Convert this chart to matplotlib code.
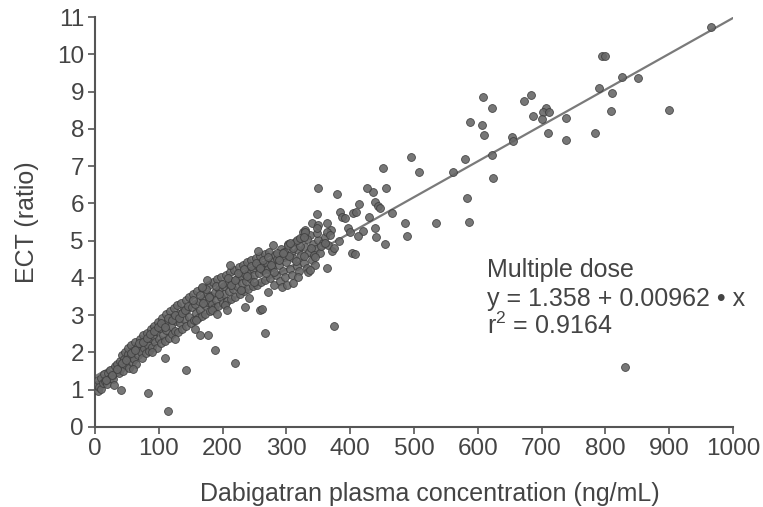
import numpy as np
import matplotlib
matplotlib.use("Agg")
import matplotlib.pyplot as plt

plt.rcParams["font.family"] = ["Liberation Sans", "DejaVu Sans"]
plt.rcParams["mathtext.default"] = "regular"

# dense band, 0-150 ng/mL (x = plasma concentration, y = ECT ratio)
conc_low = [1, 4, 5, 7, 9, 10, 13, 14, 16, 19, 20, 23, 24, 27, 29, 31, 33, 34, 37, 39,
            40, 43, 44, 46, 47, 49, 51, 52, 53, 55, 57, 58, 59, 61, 62, 64, 65, 67, 68, 70,
            72, 73, 74, 76, 77, 79, 80, 82, 83, 85, 86, 88, 89, 91, 92, 94, 96, 97, 99, 100,
            102, 103, 105, 106, 108, 109, 111, 112, 114, 116, 117, 119, 120, 122, 124, 125, 127, 128, 130, 132,
            133, 135, 137, 138, 140, 142, 143, 145, 147, 148,
            18, 26, 35, 42, 48, 56, 63, 69, 75, 81, 87, 93, 98, 104, 110, 115, 121, 126, 131, 136,
            141, 146, 30, 60, 90, 125]
ect_low = [1.12, 0.96, 1.25, 1.08, 1.32, 1.02, 1.18, 1.41, 1.22, 1.15, 1.46, 1.30, 1.52, 1.36, 1.28, 1.63, 1.47, 1.70, 1.44, 1.78,
           1.57, 1.92, 1.50, 1.83, 2.02, 1.66, 1.95, 2.12, 1.58, 1.88, 2.20, 1.73, 2.04, 1.81, 2.28, 2.09, 1.69, 2.16, 1.92, 2.37,
           2.01, 2.22, 1.85, 2.46, 2.13, 2.31, 1.98, 2.52, 2.19, 2.05, 2.40, 2.63, 2.14, 2.45, 2.72, 2.28, 2.57, 2.12, 2.81, 2.36,
           2.66, 2.25, 2.93, 2.48, 2.74, 2.31, 3.02, 2.60, 2.85, 2.38, 3.10, 2.71, 2.49, 2.95, 3.18, 2.58, 2.84, 3.26, 2.55, 3.04,
           2.79, 3.33, 2.63, 3.12, 2.90, 3.41, 2.70, 3.16, 2.96, 3.48,
           1.26, 1.40, 1.55, 1.72, 1.80, 1.99, 2.07, 2.25, 2.29, 2.38, 2.50, 2.58, 2.67, 2.78, 2.68, 2.92, 2.88, 3.00, 2.92, 3.05,
           3.15, 3.25, 1.12, 1.56, 2.02, 2.36]

# dense band, 150-370 ng/mL
conc_mid = [150, 152, 153, 155, 157, 158, 160, 162, 163, 165, 167, 168, 170, 172, 173, 175, 177, 178, 180, 182,
            183, 185, 187, 188, 190, 192, 193, 195, 197, 198, 200, 202, 203, 205, 207, 208, 210, 212, 213, 215,
            217, 218, 220, 222, 223, 225, 227, 228, 230, 232, 233, 235, 237, 238, 240, 242, 243, 245, 247, 248,
            250, 252, 254, 255, 257, 259, 260, 262, 264, 266, 267, 269, 271, 273, 275, 277, 278, 280, 282, 284,
            286, 288, 290, 292, 294, 296, 298, 300, 303, 305, 307, 309, 311, 313, 316, 318, 320, 323, 325, 327,
            330, 332, 335, 337, 340, 342, 345, 347, 350,
            154, 159, 164, 169, 174, 179, 184, 189, 194, 199, 204, 209, 214, 219, 224, 229, 234, 239, 244, 249,
            253, 258, 263, 268, 272, 276, 281, 285, 289, 297, 304, 310, 315, 321, 328, 333, 338, 343, 348, 352,
            357, 361, 366, 370,
            168, 235, 259, 279, 302, 316, 326, 293, 301, 318, 364, 340, 350, 363, 295, 306, 321, 329, 334, 207,
            262, 156, 191, 241, 271, 311, 176, 211, 256]
ect_mid = [2.78, 3.22, 3.57, 2.86, 3.31, 3.05, 3.64, 2.93, 3.38, 3.15, 3.72, 2.98, 3.45, 3.26, 3.03, 3.58, 3.36, 3.81, 3.12, 3.52,
           3.29, 3.88, 3.19, 3.62, 3.41, 3.97, 3.24, 3.70, 3.50, 4.03, 3.33, 3.78, 3.58, 4.09, 3.38, 3.86, 3.64, 4.15, 3.44, 3.92,
           3.71, 4.22, 3.50, 3.98, 3.79, 4.29, 3.57, 4.04, 3.86, 4.36, 3.64, 4.11, 3.93, 4.42, 3.70, 4.18, 4.00, 4.47, 3.77, 4.25,
           4.07, 4.53, 3.82, 4.31, 4.14, 4.58, 3.88, 4.36, 4.20, 4.64, 3.94, 4.41, 4.25, 4.70, 3.99, 4.46, 4.30, 3.80, 4.62, 4.08,
           4.51, 4.35, 3.92, 4.79, 4.18, 4.57, 4.02, 4.44, 4.90, 4.24, 4.66, 4.09, 4.53, 4.97, 4.31, 4.74, 4.18, 4.61, 5.08, 4.40,
           4.83, 4.27, 4.70, 5.16, 4.49, 4.92, 4.36, 4.79, 5.02,
           3.42, 2.88, 3.55, 3.33, 3.70, 3.48, 3.15, 3.78, 3.58, 3.85, 3.28, 4.00, 3.80, 3.95, 4.12, 3.68, 4.25, 4.05, 4.32, 3.90,
           4.40, 4.28, 4.48, 4.12, 4.55, 4.35, 4.15, 4.68, 4.48, 4.70, 4.58, 4.80, 4.45, 4.85, 4.60, 5.05, 4.80, 4.62, 5.20, 4.68,
           4.95, 5.10, 4.88, 5.30,
           3.76, 3.22, 3.14, 4.88, 4.88, 5.02, 5.23, 3.76, 3.81, 4.02, 4.27, 5.47, 5.42, 5.47, 4.66, 4.94, 5.07, 5.29, 4.16, 3.14,
           3.17, 2.62, 3.02, 3.45, 3.62, 3.86, 3.95, 4.35, 4.72]

# upper band, 330-560 ng/mL
conc_high = [329, 328, 348, 364, 371, 403, 408, 397, 400, 420, 439, 412, 440, 489, 455, 384, 387, 392, 404, 409,
             348, 465, 429, 486, 534, 414, 439, 443, 447, 379, 436, 350, 426, 456, 451, 495, 508, 561, 337, 345,
             355, 360, 368, 375, 382]
ect_high = [5.23, 5.10, 5.34, 5.23, 4.72, 4.67, 4.64, 5.34, 5.23, 5.26, 5.34, 5.12, 5.10, 5.12, 4.91, 5.77, 5.63, 5.60, 5.74, 5.77,
            5.71, 5.74, 5.63, 5.47, 5.47, 5.98, 6.04, 5.93, 5.88, 6.25, 6.31, 6.41, 6.41, 6.41, 6.95, 7.24, 6.84, 6.84, 4.21, 4.55,
            4.85, 4.95, 5.15, 4.80, 5.00]

# sparse points above 570 ng/mL
conc_top = [965, 795, 800, 826, 851, 790, 810, 809, 900, 784, 738, 738, 710, 707, 702, 712, 700, 686, 683, 673,
            654, 655, 622, 608, 607, 610, 588, 622, 580, 624, 583, 586]
ect_top = [10.73, 9.95, 9.97, 9.39, 9.38, 9.10, 8.96, 8.48, 8.50, 7.89, 8.29, 7.70, 7.89, 8.56, 8.45, 8.45, 8.26, 8.35, 8.90, 8.75,
           7.78, 7.67, 8.56, 8.85, 8.10, 7.83, 8.20, 7.30, 7.19, 6.68, 6.14, 5.50]

# points off the band
conc_out = [41, 83, 115, 143, 110, 188, 219, 266, 375, 831, 165, 177]
ect_out = [1.00, 0.91, 0.42, 1.53, 1.85, 2.07, 1.72, 2.52, 2.70, 1.61, 2.47, 2.47]

intercept = 1.358
slope = 0.00962

x = np.array(conc_low + conc_mid + conc_high + conc_top + conc_out, dtype=float)
y = np.array(ect_low + ect_mid + ect_high + ect_top + ect_out, dtype=float)

txt = "#444444"
axc = "#555555"
fs = 17.5

fig = plt.figure(figsize=(7.63, 5.07), dpi=100)
ax = fig.add_axes([0.1245, 0.158, 0.836, 0.808])

ax.scatter(x, y, s=32, facecolor="#686868", edgecolor="#3c3c3c", linewidth=0.6,
           alpha=0.9, zorder=3)

xl = np.array([0, 1000])
ax.plot(xl, intercept + slope * xl, color="#7a7a7a", linewidth=1.6, zorder=2)

ax.set_xlim(0, 1000)
ax.set_ylim(0, 11)
ax.set_xticks(range(0, 1001, 100))
ax.set_yticks(range(0, 12))

for s in ["top", "right"]:
    ax.spines[s].set_visible(False)
for s in ["left", "bottom"]:
    ax.spines[s].set_color(axc)
    ax.spines[s].set_linewidth(1.5)

ax.tick_params(direction="out", length=5, width=1.2, color=axc,
               labelsize=fs, labelcolor=txt, pad=3)

ax.set_xlabel("Dabigatran plasma concentration (ng/mL)", fontsize=18, color=txt)
ax.set_ylabel("ECT (ratio)", fontsize=18, color=txt)
ax.xaxis.set_label_coords(0.525, -0.135)
ax.yaxis.set_label_coords(-0.088, 0.5)

ax.text(614, 4.21, "Multiple dose", fontsize=18, color=txt, va="center", ha="left")
ax.text(614, 3.43, "y = 1.358 + 0.00962 \u2022 x", fontsize=18, color=txt, va="center", ha="left")
ax.text(614, 2.71, "r$^{2}$ = 0.9164", fontsize=18, color=txt, va="center", ha="left")

fig.savefig("out.png", dpi=100)
